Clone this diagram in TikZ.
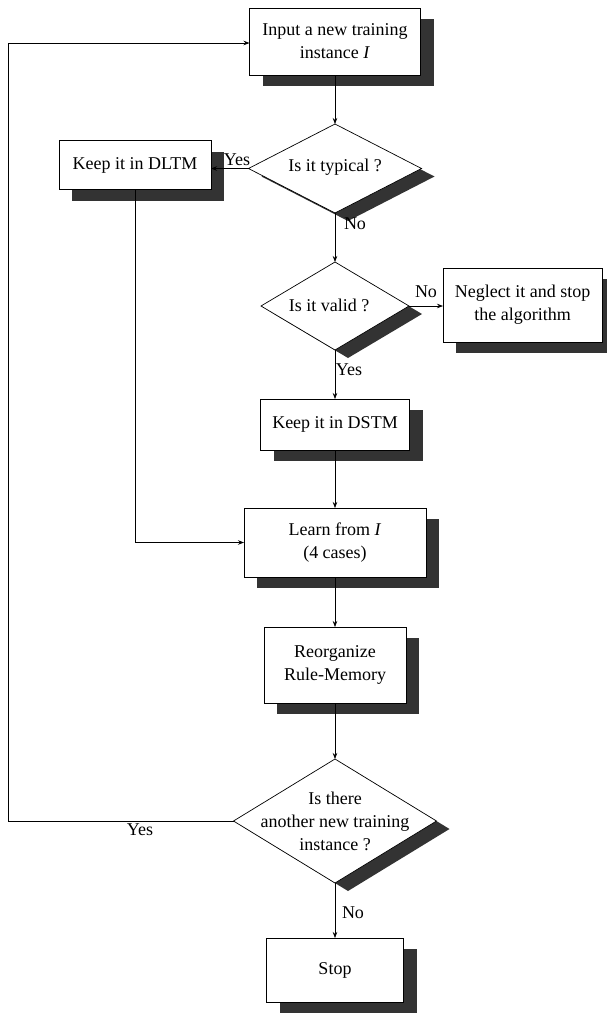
\documentclass[tikz,border=0pt]{standalone}
\usepackage{fontspec}
\setmainfont{Liberation Serif}
\usetikzlibrary{shapes.geometric,shadows,arrows.meta}

\begin{document}
\begin{tikzpicture}[x=1pt,y=-1pt,
  font=\fontsize{18}{23}\selectfont,
  line width=0.7pt,
  shade/.style={drop shadow={shadow xshift=13pt,shadow yshift=-11pt,fill=black!80,opacity=1}},
  dshade/.style={drop shadow={shadow xshift=13pt,shadow yshift=-8pt,fill=black!80,opacity=1}},
  procbox/.style={draw, fill=white, rectangle, inner sep=0pt, outer sep=0pt, align=center, shade},
  decision/.style={draw, fill=white, diamond, inner sep=0pt, outer sep=0pt, dshade},
  dtext/.style={align=center, inner sep=0pt},
  flow/.style={-{Stealth[length=6pt,width=4.5pt]}},
  lbl/.style={inner sep=0pt}
]
\useasboundingbox (0,0) rectangle (607,1013);

% main column of steps and decisions
\node[procbox, minimum width=171pt, minimum height=67pt] (inp) at (335,41.5) {Input a new training\\instance \textit{I}};
\node[decision, minimum width=173pt, minimum height=89pt] (typ) at (335,168.5) {};
\node[dtext] (typt) at (335,167) {Is it typical ?};
\node[procbox, minimum width=152pt, minimum height=49pt] (dltm) at (135,165) {Keep it in DLTM};
\node[decision, minimum width=148pt, minimum height=88pt] (val) at (335,306) {};
\node[dtext] (valt) at (329,305) {Is it valid ?};
\node[procbox, minimum width=159pt, minimum height=74pt] (negl) at (522.5,305) {Neglect it and stop\\the algorithm};
\node[procbox, minimum width=149pt, minimum height=51pt] (dstm) at (335,424.5) {Keep it in DSTM};
\node[procbox, minimum width=182pt, minimum height=69pt] (learn) at (335,542.5) {Learn from \textit{I}\\(4 cases)};
\node[procbox, minimum width=142pt, minimum height=76pt] (reorg) at (335,665) {Reorganize\\Rule-Memory};
\node[decision, minimum width=203pt, minimum height=124pt] (more) at (335,821) {};
\node[dtext] (moret) at (335,821) {Is there\\another new training\\instance ?};
\node[procbox, minimum width=137pt, minimum height=64pt] (stop) at (335,970) {Stop};

% connectors
\draw[flow] (inp.south) -- (typ.north);
\draw[flow] (typ.west) -- (typ.west -| dltm.east);
\draw[flow] (typ.south) -- (val.north);
\draw[flow] (val.east) -- (val.east -| negl.west);
\draw[flow] (val.south) -- (dstm.north);
\draw[flow] (dstm.south) -- (learn.north);
\draw[flow] (dltm.south) |- (learn.west);
\draw[flow] (learn.south) -- (reorg.north);
\draw[flow] (reorg.south) -- (more.north);
\draw[flow] (more.south) -- (stop.north);

% loop back to the input step
\coordinate (lb) at (8,821);
\coordinate (lt) at (8,43);
\draw[flow] (more.west) -- (lb) -- (lt) -- (lt -| inp.west);

% branch labels
\node[lbl] (y1) at (237,160) {Yes};
\node[lbl] (n1) at (355,224) {No};
\node[lbl] (n2) at (426,292) {No};
\node[lbl] (y2) at (349,370) {Yes};
\node[lbl] (y3) at (140,830) {Yes};
\node[lbl] (n3) at (353,913) {No};
\end{tikzpicture}
\end{document}
